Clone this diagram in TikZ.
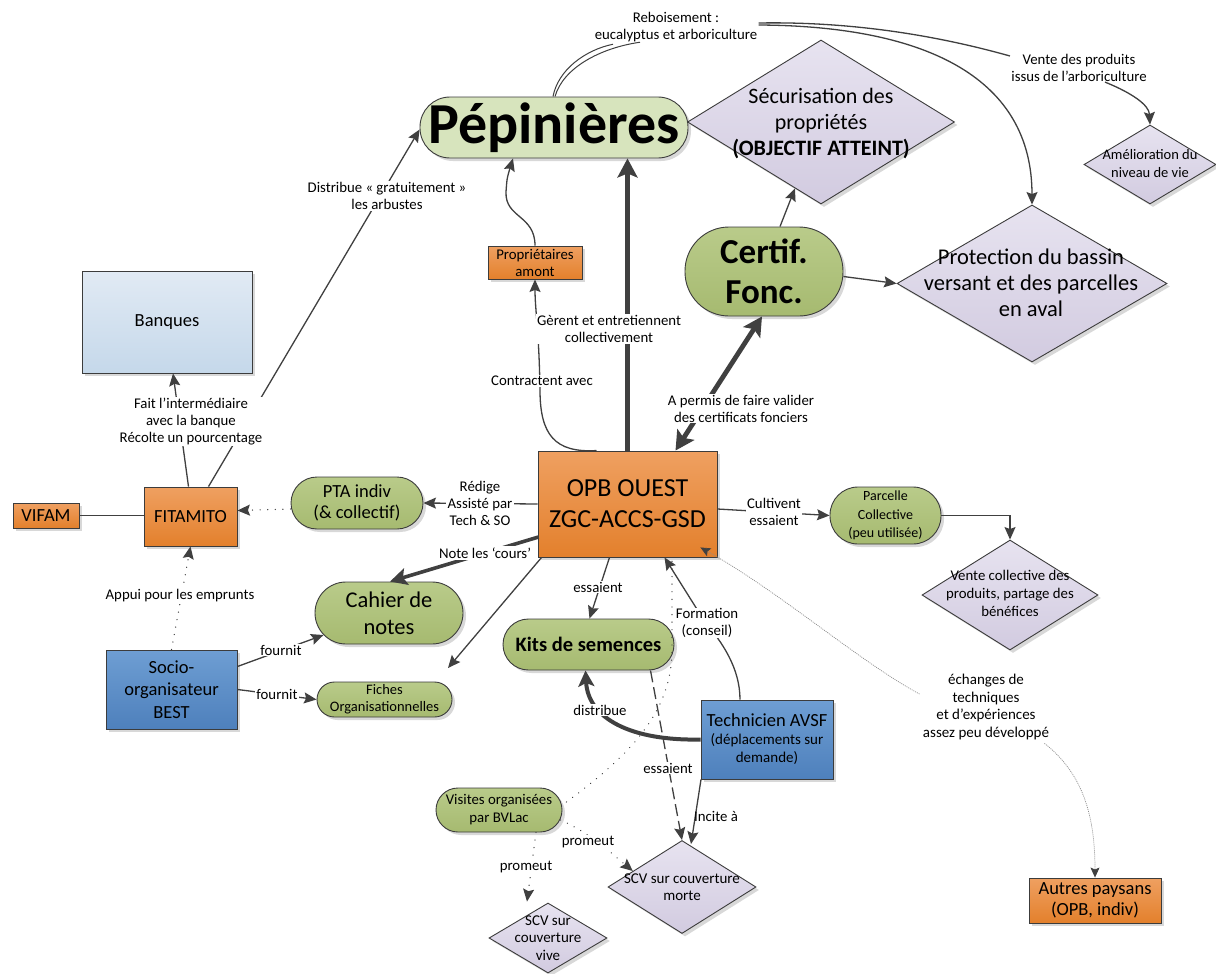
\documentclass[tikz,border=0pt]{standalone}
\usepackage{fontspec}
\setmainfont{Carlito}
\usetikzlibrary{arrows.meta,shapes.geometric,shadows,calc}

\definecolor{edgec}{HTML}{404040}
\definecolor{bordc}{HTML}{3C3C3C}
\definecolor{pepg}{HTML}{D7E4BD}
\definecolor{olT}{HTML}{B9CB8A}
\definecolor{olB}{HTML}{A6BA70}
\definecolor{orT}{HTML}{EFA061}
\definecolor{orB}{HTML}{E3802C}
\definecolor{blT}{HTML}{6E9ED3}
\definecolor{blB}{HTML}{4E80BC}
\definecolor{lvT}{HTML}{E7E3F0}
\definecolor{lvB}{HTML}{D2CBE0}
\definecolor{bqT}{HTML}{E1EAF4}
\definecolor{bqB}{HTML}{C5D8EA}
\definecolor{fineg}{HTML}{8C8C8C}

\newcommand\myfs[2]{\fontsize{#1}{#2}\selectfont}

\tikzset{
  base/.style={draw=bordc, line width=0.9pt, align=center, inner sep=0pt, text=black,
    drop shadow={opacity=0.3, shadow xshift=3pt, shadow yshift=-3pt}},
  boxnode/.style={base, rectangle},
  stad/.style={base, rectangle, rounded corners=#1},
  dia/.style={base, diamond, inner sep=0pt, top color=lvT, bottom color=lvB},
  dtext/.style={align=center, inner sep=0pt},
  orfill/.style={top color=orT, bottom color=orB},
  olfill/.style={top color=olT, bottom color=olB},
  blfill/.style={top color=blT, bottom color=blB},
  lbl/.style={fill=white, inner sep=1.2pt, align=center, font=\myfs{14.8}{17}},
  lblnf/.style={inner sep=1.2pt, align=center, font=\myfs{14.8}{17}},
  con/.style={draw=edgec, line width=1.3pt},
  arr/.style={con, -{Stealth[length=12.5pt,width=11pt,inset=2pt]}},
  tarr/.style={draw=edgec, line width=4.8pt, -{Stealth[length=19pt,width=20pt,inset=4pt]}},
  tarrb/.style={draw=edgec, line width=4.8pt, {Stealth[length=19pt,width=20pt,inset=4pt]}-{Stealth[length=19pt,width=20pt,inset=4pt]}},
  tarr2/.style={draw=edgec, line width=3.6pt, -{Stealth[length=17pt,width=17pt,inset=3.5pt]}},
  tarr3/.style={draw=edgec, line width=4pt, -{Stealth[length=16pt,width=16pt,inset=3.5pt]}},
  dotl/.style={con, line cap=round, dash pattern=on 0.1pt off 7.5pt},
  dotarr/.style={dotl, -{Stealth[length=12.5pt,width=11pt,inset=2pt]}},
  dasharr/.style={con, dash pattern=on 12pt off 5pt, -{Stealth[length=12.5pt,width=11pt,inset=2pt]}},
  finearr/.style={draw=fineg, line width=0.7pt, dash pattern=on 1pt off 1pt, -{Stealth[length=10pt,width=9pt,inset=2pt,color=edgec]}},
}

\begin{document}
\begin{tikzpicture}[x=1pt,y=-1pt]
\fill[white] (0,0) rectangle (1216,974);
\useasboundingbox (0,0) rectangle (1216,974);

% ---------- nodes ----------
\node[stad=30, fill=pepg, minimum width=268, minimum height=61, font=\myfs{58}{60}\bfseries] (pep) at (554,127.5) {Pépinières};

\node[dia, minimum width=267, minimum height=164] (sec) at (821,122) {};
\node[dtext, font=\myfs{22}{26}] (sect) at (821,124) {Sécurisation des\\propriétés\\\textbf{(OBJECTIF ATTEINT)}};

\node[dia, minimum width=132, minimum height=79] (amel) at (1150,164.5) {};
\node[dtext, font=\myfs{14.5}{18}] (amelt) at (1150,164) {Amélioration du\\niveau de vie};

\node[dia, minimum width=270, minimum height=157] (prot) at (1032,283.5) {};
\node[dtext, font=\myfs{22.5}{26}] (prott) at (1031,283) {Protection du bassin\\versant et des parcelles\\en aval};

\node[stad=44, olfill, minimum width=158, minimum height=89, font=\myfs{35}{40}\bfseries] (certif) at (764,271.5) {Certif.\\Fonc.};

\node[boxnode, orfill, minimum width=94, minimum height=33, font=\myfs{14.8}{17}] (prop) at (535,262.5) {Propriétaires\\amont};

\node[boxnode, top color=bqT, bottom color=bqB, minimum width=170, minimum height=102, font=\myfs{18.5}{22}] (banq) at (167,322) {Banques};

\node[boxnode, orfill, minimum width=179, minimum height=106, font=\myfs{26}{31}] (opb) at (627.5,504) {OPB OUEST\\ZGC-ACCS-GSD};

\node[boxnode, orfill, minimum width=93, minimum height=59, font=\myfs{18.5}{22}] (fit) at (190.5,516.5) {FITAMITO};
\node[boxnode, orfill, minimum width=66, minimum height=25, font=\myfs{18.5}{22}] (vifam) at (46,515.5) {VIFAM};

\node[stad=26, olfill, minimum width=132, minimum height=52, font=\myfs{18.5}{21}] (pta) at (357,503) {PTA indiv\\(\& collectif)};

\node[stad=28, olfill, minimum width=111, minimum height=57, font=\myfs{14}{18.5}] (parc) at (885.5,515.5) {Parcelle\\Collective\\(peu utilisée)};

\node[dia, minimum width=176, minimum height=110] (vcol) at (1010,595) {};
\node[dtext, font=\myfs{14.8}{18}] (vcolt) at (1010,593) {Vente collective des\\produits, partage des\\bénéfices};

\node[stad=31, olfill, minimum width=148, minimum height=62, font=\myfs{22.5}{27}] (cah) at (389,613) {Cahier de\\notes};

\node[stad=25.5, olfill, minimum width=171, minimum height=51, font=\myfs{20.5}{24}\bfseries] (kits) at (588.5,644.5) {Kits de semences};

\node[boxnode, blfill, minimum width=131, minimum height=79, font=\myfs{18.5}{22.5}] (socio) at (171.5,689.5) {Socio-\\organisateur\\BEST};

\node[stad=17.5, olfill, minimum width=135, minimum height=35, font=\myfs{14.5}{17}] (fiches) at (384.5,699.5) {Fiches\\Organisationnelles};

\node[boxnode, blfill, minimum width=132, minimum height=79, font=\myfs{15}{18}] (tech) at (767,739.5) {{\myfs{18.5}{20}Technicien AVSF}\\(déplacements sur\\demande)};

\node[stad=22, olfill, minimum width=126, minimum height=44, font=\myfs{14.8}{18}] (vis) at (499,810) {Visites organisées\\par BVLac};

\node[dia, minimum width=148, minimum height=93] (scvm) at (682,887) {};
\node[dtext, font=\myfs{15}{17.5}] (scvmt) at (682,887) {SCV sur couverture\\morte};

\node[dia, minimum width=118, minimum height=70] (scvv) at (548,938) {};
\node[dtext, font=\myfs{15}{17.5}] (scvvt) at (548,938) {SCV sur\\couverture\\vive};

\node[boxnode, orfill, minimum width=132, minimum height=45, font=\myfs{18.5}{21}] (autres) at (1095,900.5) {Autres paysans\\(OPB, indiv)};

% label nodes (placed now for anchors, redrawn on top later)
\path (676,27) node[lblnf, opacity=0] (reb) {Reboisement :\\eucalyptus et arboriculture};
\path (1079,68) node[lblnf, opacity=0] (vente) {Vente des produits\\issus de l’arboriculture};
\path (986,707) node[lblnf, font=\myfs{15}{17.7}, opacity=0] (ech) {échanges de\\techniques\\et d’expériences\\assez peu développé};
\coordinate (fe) at (448,668);

% ---------- connectors ----------
% Pepinieres -> Reboisement (double curve)
\draw[con, line width=1pt] ($(pep.north)+(-1,0)$) .. controls (558,70) and (585,50) .. ($(reb.south)+(-63,1)$);
\draw[con, line width=1pt] ($(pep.north)+(1,0)$) .. controls (563,68) and (600,48) .. ($(reb.south)+(-36,-1)$);
% Reboisement -> Protection, -> Vente
\draw[arr] ($(reb.east)+(0,-2)$) .. controls (930,26) and (1032,80) .. (prot.north);
\draw[con] ($(reb.east)+(0,-4)$) .. controls (870,21) and (960,42) .. ($(vente.west)+(0,-12)$);
% Vente -> Amelioration
\draw[arr] ($(vente.south)+(26,-1)$) .. controls (1132,93) and (1149,105) .. (amel.north);
% Proprietaires -> Pepinieres
\draw[arr] (prop.north) .. controls (535,215) and (505,218) .. (506,192) .. controls (507,178) .. ($(pep.south)+(-41,0)$);
% OPB -> Proprietaires
\draw[arr] ($(opb.north)+(-31,0)$) .. controls (555,453) and (540,435) .. (540,390) .. controls (539,330) and (535,310) .. (prop.south);
% OPB -> Pepinieres (thick)
\draw[tarr] (opb.north) -- (opb.north |- pep.south);
% OPB <-> Certif (thick)
\draw[tarrb] ($(opb.north)+(48,0)$) -- ($(certif.south)+(-2,0)$);
% Certif -> Securisation
\draw[arr] ($(certif.north)+(16,0)$) -- (sec);
% Certif -> Protection
\draw[arr] ($(certif.east)+(0,5)$) -- (prot.west);
% OPB -> Parcelle
\draw[arr] ($(opb.east)+(0,5)$) -- (parc.west);
% Parcelle -> Vente collective
\draw[arr] (parc.east) -| (vcol.north);
% OPB -> PTA
\draw[arr] (opb.west) -- (pta.east);
% PTA -> FITAMITO (dotted)
\draw[dotarr] ($(pta.west)+(0,6)$) -- ($(fit.east)+(0,-6)$);
% VIFAM - FITAMITO
\draw[con] (vifam.east) -- (vifam.east -| fit.west);
% FITAMITO -> Pepinieres
\draw[arr] ($(fit.north)+(18,0)$) -- ($(pep.west)+(0,2)$);
% FITAMITO -> Banques
\draw[arr] ($(fit.north)+(-2,0)$) -- ($(banq.south)+(6,0)$);
% Socio -> FITAMITO (dotted)
\draw[dotarr] (socio.north) -- (fit.south);
% Socio -> Cahier
\draw[arr] ($(socio.east)+(0,-23)$) -- ($(cah.west)+(9,22)$);
% Socio -> Fiches
\draw[arr] (socio.east) -- (fiches.west);
% OPB -> Cahier (thick)
\draw[tarr2] ($(opb.west)+(1,33)$) -- ($(cah.north)+(1,0)$);
% OPB -> (towards Fiches)
\draw[arr] ($(opb.south west)+(4,0)$) -- (fe);
% OPB -> Kits
\draw[arr] ($(opb.south)+(-18,0)$) -- ($(kits.north)+(1,0)$);
% Technicien -> OPB (Formation)
\draw[arr] ($(tech.north)+(-27,0)$) .. controls (740,668) and (722,642) .. (705,622) -- ($(opb.south)+(37,0)$);
% Technicien -> Kits (thick, distribue)
\draw[tarr3] (tech.west) .. controls (630,741) and (588,718) .. ($(kits.south)+(-3,0)$);
% Visites ... OPB (dotted)
\draw[dotl] ($(vis.east)+(4,-8)$) .. controls (630,755) and (672,712) .. (672,650) -- ($(opb.south)+(44.5,0)$);
% Kits -> SCV morte (dashed)
\draw[dasharr] ($(kits.south)+(62,0)$) -- (scvm.north);
% Technicien -> SCV morte
\draw[arr] ($(tech.south)+(-66,0)$) -- ($(scvm.north)+(9,4)$);
% Visites -> SCV morte (dotted)
\draw[dotarr] ($(vis.east)+(-2,10)$) .. controls (590,833) and (610,852) .. ($(scvm.west)!0.34!(scvm.north)$);
% Visites -> SCV vive (dotted)
\draw[dotarr] ($(vis.south)+(37,0)$) -- ($(scvv.north)+(-21,-1)$);
% OPB <- echanges -> Autres paysans
\draw[finearr] ($(ech.west)+(-2,-13)$) .. controls (860,662) and (780,592) .. ($(opb.south east)+(-17,-10)$);
\draw[finearr] ($(ech.south east)+(-6,2)$) .. controls (1085,775) and (1095,820) .. (autres.north);

% ---------- labels ----------
\node[lblnf] (rebl) at (reb) {Reboisement :\\eucalyptus et arboriculture};
\node[lblnf] (ventel) at (vente) {Vente des produits\\issus de l’arboriculture};
\node[lblnf, font=\myfs{15}{17.7}] (echl) at (ech) {échanges de\\techniques\\et d’expériences\\assez peu développé};
\node[lbl] (dist) at (387,196) {Distribue « gratuitement »\\les arbustes};
\node[lbl] (gerent) at (609,329) {Gèrent et entretiennent\\collectivement};
\node[lbl] (contr) at (542,381) {Contractent avec};
\node[lbl] (permis) at (741,408.5) {A permis de faire valider\\des certificats fonciers};
\node[lbl] (fait) at (191,421.5) {Fait l’intermédiaire\\avec la banque\\Récolte un pourcentage};
\node[lbl] (redige) at (480,503) {Rédige\\Assisté par\\Tech \& SO};
\node[lbl] (cult) at (774,511.5) {Cultivent\\essaient};
\node[lbl] (note) at (485,553) {Note les ‘cours’};
\node[lbl] (appui) at (180,596) {Appui pour les emprunts};
\node[lbl] (ess1) at (598,587) {essaient};
\node[lbl, inner sep=0.3pt] (form) at (707,623) {Formation\\(conseil)};
\node[lbl] (fourn1) at (281,650) {fournit};
\node[lbl] (fourn2) at (277,694) {fournit};
\node[lbl] (distr) at (600,710) {distribue};
\node[lbl] (ess2) at (668,768) {essaient};
\node[lblnf] (incite) at (716,816) {Incite à};
\node[lbl] (prom1) at (588,842) {promeut};
\node[lbl] (prom2) at (526,867) {promeut};

\end{tikzpicture}
\end{document}
